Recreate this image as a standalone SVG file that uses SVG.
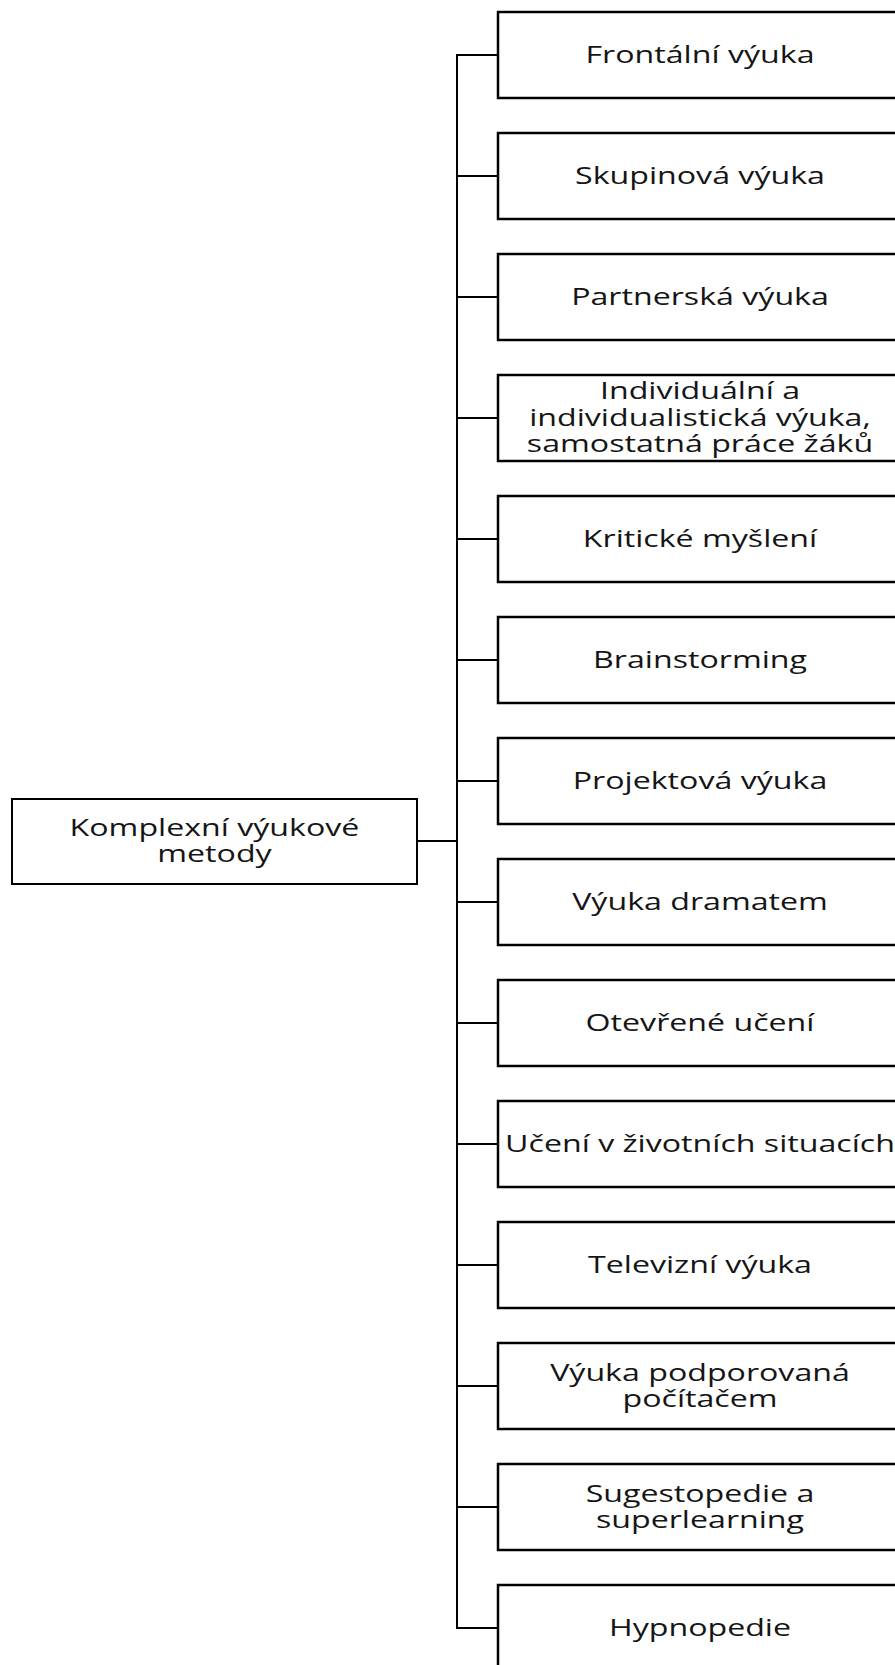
<svg xmlns="http://www.w3.org/2000/svg" width="895" height="1665" viewBox="0 0 895 1665">
<style>
.box{fill:#fff;stroke:#000;stroke-width:2.5}
.main{fill:#fff;stroke:#000;stroke-width:2}
.t{font-family:"Open Sans","Noto Sans",sans-serif;font-size:24px;fill:#151515;text-anchor:middle}
.c{stroke:#000;stroke-width:2;fill:none}
</style>
<rect width="895" height="1665" fill="#fff"/>
<g id="connectors">
<line class="c" x1="457" y1="54" x2="457" y2="1629"/>
<line class="c" x1="417" y1="841" x2="457" y2="841"/>
<line class="c" x1="456" y1="55" x2="498" y2="55"/>
<line class="c" x1="456" y1="176" x2="498" y2="176"/>
<line class="c" x1="456" y1="297" x2="498" y2="297"/>
<line class="c" x1="456" y1="418" x2="498" y2="418"/>
<line class="c" x1="456" y1="539" x2="498" y2="539"/>
<line class="c" x1="456" y1="660" x2="498" y2="660"/>
<line class="c" x1="456" y1="781" x2="498" y2="781"/>
<line class="c" x1="456" y1="902" x2="498" y2="902"/>
<line class="c" x1="456" y1="1023" x2="498" y2="1023"/>
<line class="c" x1="456" y1="1144" x2="498" y2="1144"/>
<line class="c" x1="456" y1="1265" x2="498" y2="1265"/>
<line class="c" x1="456" y1="1386" x2="498" y2="1386"/>
<line class="c" x1="456" y1="1507" x2="498" y2="1507"/>
<line class="c" x1="456" y1="1628" x2="498" y2="1628"/>
</g>
<g id="root">
<rect class="main" x="12" y="799" width="405" height="85"/>
<text class="t" transform="translate(214.5 0) scale(1.34 1)"><tspan x="0" y="836">Komplexní výukové</tspan><tspan x="0" y="862">metody</tspan></text>
</g>
<g id="n0"><rect class="box" x="498" y="12" width="406" height="86"/><text class="t" transform="translate(700 63) scale(1.34 1)">Frontální výuka</text></g>
<g id="n1"><rect class="box" x="498" y="133" width="406" height="86"/><text class="t" transform="translate(700 184) scale(1.34 1)">Skupinová výuka</text></g>
<g id="n2"><rect class="box" x="498" y="254" width="406" height="86"/><text class="t" transform="translate(700 305) scale(1.34 1)">Partnerská výuka</text></g>
<g id="n3"><rect class="box" x="498" y="375" width="406" height="86"/><text class="t" transform="translate(700 0) scale(1.34 1)"><tspan x="0" y="399">Individuální a</tspan><tspan x="0" y="426">individualistická výuka,</tspan><tspan x="0" y="452">samostatná práce žáků</tspan></text></g>
<g id="n4"><rect class="box" x="498" y="496" width="406" height="86"/><text class="t" transform="translate(700 547) scale(1.34 1)">Kritické myšlení</text></g>
<g id="n5"><rect class="box" x="498" y="617" width="406" height="86"/><text class="t" transform="translate(700 668) scale(1.34 1)">Brainstorming</text></g>
<g id="n6"><rect class="box" x="498" y="738" width="406" height="86"/><text class="t" transform="translate(700 789) scale(1.34 1)">Projektová výuka</text></g>
<g id="n7"><rect class="box" x="498" y="859" width="406" height="86"/><text class="t" transform="translate(700 910) scale(1.34 1)">Výuka dramatem</text></g>
<g id="n8"><rect class="box" x="498" y="980" width="406" height="86"/><text class="t" transform="translate(700 1031) scale(1.34 1)">Otevřené učení</text></g>
<g id="n9"><rect class="box" x="498" y="1101" width="406" height="86"/><text class="t" transform="translate(700 1152) scale(1.34 1)">Učení v životních situacích</text></g>
<g id="n10"><rect class="box" x="498" y="1222" width="406" height="86"/><text class="t" transform="translate(700 1273) scale(1.34 1)">Televizní výuka</text></g>
<g id="n11"><rect class="box" x="498" y="1343" width="406" height="86"/><text class="t" transform="translate(700 0) scale(1.34 1)"><tspan x="0" y="1381">Výuka podporovaná</tspan><tspan x="0" y="1407">počítačem</tspan></text></g>
<g id="n12"><rect class="box" x="498" y="1464" width="406" height="86"/><text class="t" transform="translate(700 0) scale(1.34 1)"><tspan x="0" y="1502">Sugestopedie a</tspan><tspan x="0" y="1528">superlearning</tspan></text></g>
<g id="n13"><rect class="box" x="498" y="1585" width="406" height="86"/><text class="t" transform="translate(700 1636) scale(1.34 1)">Hypnopedie</text></g>
</svg>
